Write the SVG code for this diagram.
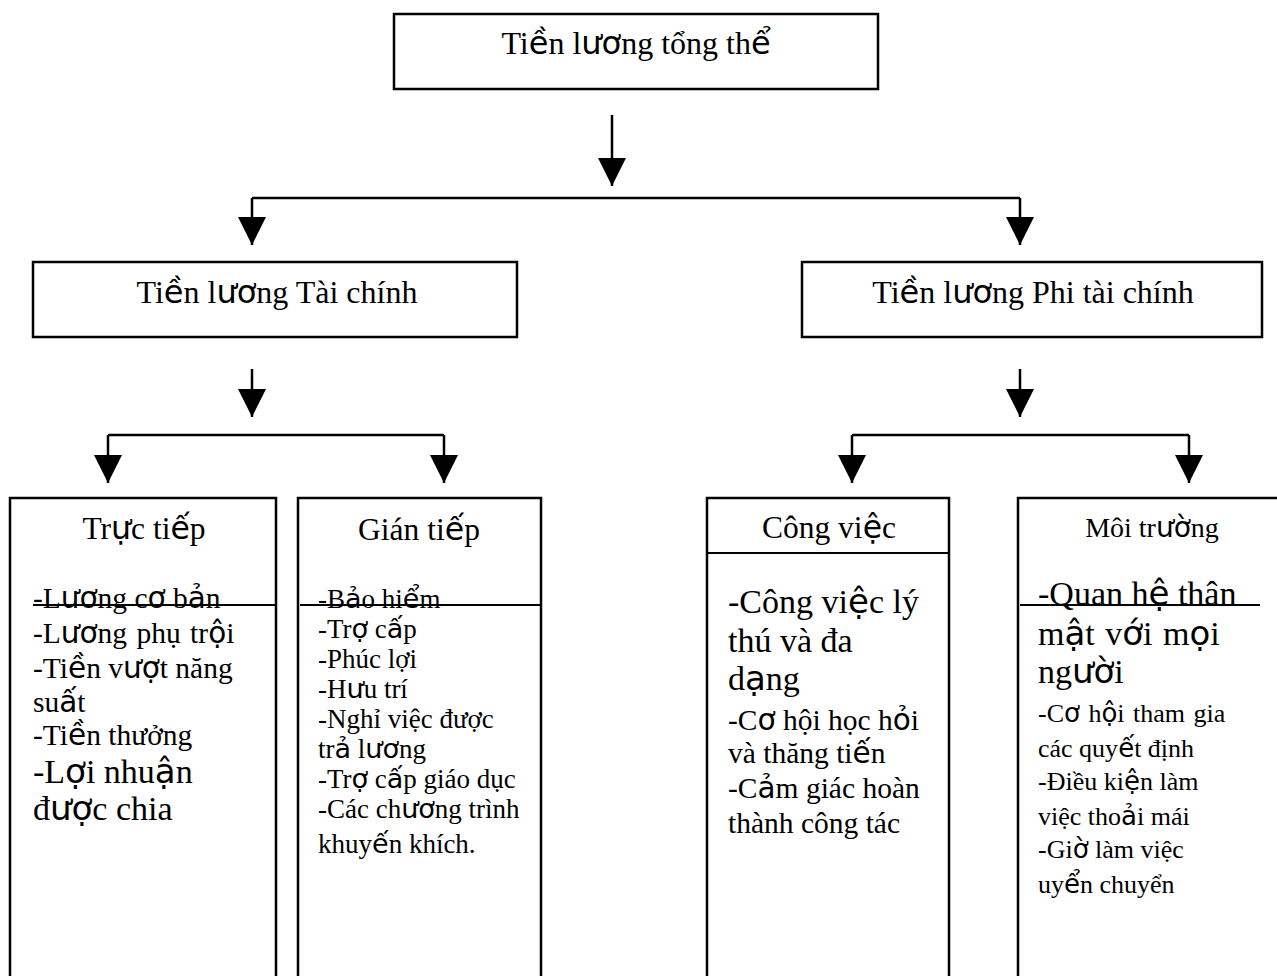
<svg xmlns="http://www.w3.org/2000/svg" width="1277" height="976" viewBox="0 0 1277 976">
  <style>
    .box { fill: #fff; stroke: #000; stroke-width: 2.5; }
    .frame { fill: none; stroke: #000; stroke-width: 2.5; }
    .rule { fill: none; stroke: #000; stroke-width: 2; }
    .wire { fill: none; stroke: #000; stroke-width: 2.5; }
    text { font-family: "Liberation Serif", "Times New Roman", serif; fill: #000; }
    .c { text-anchor: middle; }
    .s { font-family: "DejaVu Sans", sans-serif; }
    .h1 { font-size: 32px; }
    .h2 { font-size: 31.5px; }
    .big { font-size: 34px; }
    .item { font-size: 29.5px; }
    .small { font-size: 27px; }
    .env { font-size: 26px; }
  </style>
  <defs>
    <marker id="head" markerUnits="userSpaceOnUse" markerWidth="28" markerHeight="28" viewBox="0 0 28 28" refX="28" refY="14" orient="auto">
      <path d="M0,0 L28,14 L0,28 z" fill="#000"/>
    </marker>
  </defs>

  <rect width="1277" height="976" fill="#fff"/>

  <!-- connectors -->
  <g id="connectors">
    <path class="wire" d="M612,115 V186" marker-end="url(#head)"/>
    <path class="wire" d="M252,198 H1020"/>
    <path class="wire" d="M252,198 V245" marker-end="url(#head)"/>
    <path class="wire" d="M1020,198 V245" marker-end="url(#head)"/>
    <path class="wire" d="M252,369 V417" marker-end="url(#head)"/>
    <path class="wire" d="M108,435 H444"/>
    <path class="wire" d="M108,435 V483" marker-end="url(#head)"/>
    <path class="wire" d="M444,435 V483" marker-end="url(#head)"/>
    <path class="wire" d="M1020,369 V417" marker-end="url(#head)"/>
    <path class="wire" d="M852,435 H1189"/>
    <path class="wire" d="M852,435 V483" marker-end="url(#head)"/>
    <path class="wire" d="M1189,435 V483" marker-end="url(#head)"/>
  </g>

  <!-- root -->
  <g id="node-tong-the">
    <rect class="box" x="394" y="14" width="484" height="75"/>
    <text class="h1 c" x="636" y="54">Ti<tspan class="s">ề</tspan>n l<tspan class="s">ươ</tspan>ng tổng th<tspan class="s">ể</tspan></text>
  </g>

  <g id="node-tai-chinh">
    <rect class="box" x="33" y="262" width="484" height="75"/>
    <text class="h1 c" x="277" y="303">Ti<tspan class="s">ề</tspan>n l<tspan class="s">ươ</tspan>ng Tài chính</text>
  </g>

  <g id="node-phi-tai-chinh">
    <rect class="box" x="802" y="262" width="460" height="75"/>
    <text class="h1 c" x="1033" y="303">Ti<tspan class="s">ề</tspan>n l<tspan class="s">ươ</tspan>ng Phi tài chính</text>
  </g>

  <!-- direct pay -->
  <g id="node-truc-tiep">
    <path class="frame" d="M10,976 V498 H276 V976"/>
    <path class="rule" d="M33,605 H276"/>
    <text class="h2 c" x="144" y="539">Tr<tspan class="s">ự</tspan>c ti<tspan class="s">ế</tspan>p</text>
    <text class="item" x="33" y="608">-L<tspan class="s">ươ</tspan>ng c<tspan class="s">ơ</tspan> b<tspan class="s">ả</tspan>n</text>
    <text class="item" x="33" y="643" word-spacing="2">-L<tspan class="s">ươ</tspan>ng phụ tr<tspan class="s">ộ</tspan>i</text>
    <text class="item" x="33" y="678">-Ti<tspan class="s">ề</tspan>n v<tspan class="s">ượ</tspan>t năng</text>
    <text class="item" x="33" y="712">su<tspan class="s">ấ</tspan>t</text>
    <text class="item" x="33" y="745">-Ti<tspan class="s">ề</tspan>n thưởng</text>
    <text class="big" x="33" y="783">-L<tspan class="s">ợ</tspan>i nhu<tspan class="s">ậ</tspan>n</text>
    <text class="big" x="33" y="820">đ<tspan class="s">ượ</tspan>c chia</text>
  </g>

  <!-- indirect pay -->
  <g id="node-gian-tiep">
    <path class="frame" d="M298,976 V498 H541 V976"/>
    <path class="rule" d="M300,605 H541"/>
    <text class="h2 c" x="419" y="540">Gián ti<tspan class="s">ế</tspan>p</text>
    <text class="small" x="318" y="608">-B<tspan class="s">ả</tspan>o hi<tspan class="s">ể</tspan>m</text>
    <text class="small" x="318" y="638">-Tr<tspan class="s">ợ</tspan> c<tspan class="s">ấ</tspan>p</text>
    <text class="small" x="318" y="668">-Phúc lợi</text>
    <text class="small" x="318" y="698">-H<tspan class="s">ư</tspan>u trí</text>
    <text class="small" x="318" y="728">-Nghỉ việc được</text>
    <text class="small" x="318" y="758">tr<tspan class="s">ả</tspan> l<tspan class="s">ươ</tspan>ng</text>
    <text class="small" x="318" y="788">-Tr<tspan class="s">ợ</tspan> c<tspan class="s">ấ</tspan>p giáo dục</text>
    <text class="small" x="318" y="818">-Các ch<tspan class="s">ươ</tspan>ng trình</text>
    <text class="small" x="318" y="853">khuy<tspan class="s">ế</tspan>n khích.</text>
  </g>

  <!-- work itself -->
  <g id="node-cong-viec">
    <path class="frame" d="M707,976 V498 H949 V976"/>
    <path class="rule" d="M707,553 H949"/>
    <text class="h2 c" x="829" y="538">Công vi<tspan class="s">ệ</tspan>c</text>
    <text class="big" x="728" y="613">-Công vi<tspan class="s">ệ</tspan>c lý</text>
    <text class="big" x="728" y="652">thú và đa</text>
    <text class="big" x="728" y="690">d<tspan class="s">ạ</tspan>ng</text>
    <text class="item" x="728" y="730">-C<tspan class="s">ơ</tspan> hội học h<tspan class="s">ỏ</tspan>i</text>
    <text class="item" x="728" y="763">và thăng ti<tspan class="s">ế</tspan>n</text>
    <text class="item" x="728" y="798">-C<tspan class="s">ả</tspan>m giác hoàn</text>
    <text class="item" x="728" y="833">thành công tác</text>
  </g>

  <!-- work environment -->
  <g id="node-moi-truong">
    <path class="frame" d="M1018,976 V498 H1277"/>
    <path class="rule" d="M1020,605 H1260"/>
    <text class="c" style="font-size:28px" x="1152" y="537">Môi tr<tspan class="s">ườ</tspan>ng</text>
    <text class="big" x="1038" y="605">-Quan h<tspan class="s">ệ</tspan> thân</text>
    <text class="big" x="1038" y="645" word-spacing="2">m<tspan class="s">ậ</tspan>t v<tspan class="s">ớ</tspan>i m<tspan class="s">ọ</tspan>i</text>
    <text class="big" x="1038" y="683">ng<tspan class="s">ườ</tspan>i</text>
    <text class="env" x="1038" y="722" word-spacing="2">-C<tspan class="s">ơ</tspan> h<tspan class="s">ộ</tspan>i tham gia</text>
    <text class="env" x="1038" y="757">các quy<tspan class="s">ế</tspan>t định</text>
    <text class="env" x="1038" y="790">-Điều ki<tspan class="s">ệ</tspan>n làm</text>
    <text class="env" x="1038" y="825">việc tho<tspan class="s">ả</tspan>i mái</text>
    <text class="env" x="1038" y="858">-Gi<tspan class="s">ờ</tspan> làm việc</text>
    <text class="env" x="1038" y="893">uy<tspan class="s">ể</tspan>n chuyển</text>
  </g>
</svg>
